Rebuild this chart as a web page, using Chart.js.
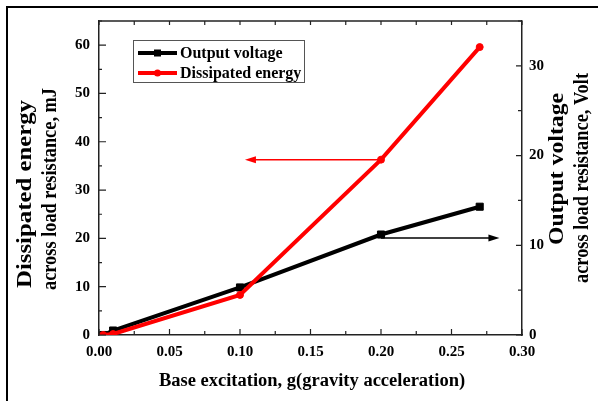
<!DOCTYPE html>
<html>
<head>
<meta charset="utf-8">
<script src="https://cdn.jsdelivr.net/npm/chart.js@4.4.0/dist/chart.umd.min.js"></script>
<style>
    html, body { margin: 0; padding: 0; background: #fff; }
    #wrap { width: 598px; height: 401px; }
</style>
</head>
<body>
<div id="wrap"><canvas id="chart" width="598" height="401"></canvas></div>
<script>
const excitation = [0.003, 0.01, 0.10, 0.20, 0.27];
const outputVoltage = [0.0, 0.5, 5.3, 11.2, 14.3];
const dissipatedEnergy = [0.0, 0.2, 8.3, 36.3, 59.6];

// arrows pointing each curve to its axis: [x from, x to, y value]
const energyArrow = [0.20, 0.1035, 36.3];
const voltageArrow = [0.20, 0.284, 10.8];

const serif = "'Liberation Serif', 'Times New Roman', serif";
const axisColor = "#222";

function isMajor(v, step) {
    const r = v / step;
    return Math.abs(r - Math.round(r)) < 1e-6;
}

function toPoints(ys) {
    return excitation.map(function (x, i) { return { x: x, y: ys[i] }; });
}

function drawArrow(ctx, x1, y, x2, color) {
    const dir = x2 > x1 ? 1 : -1;
    ctx.strokeStyle = color;
    ctx.fillStyle = color;
    ctx.lineWidth = 1.5;
    ctx.beginPath();
    ctx.moveTo(x1, y);
    ctx.lineTo(x2 - dir * 8, y);
    ctx.stroke();
    ctx.beginPath();
    ctx.moveTo(x2, y);
    ctx.lineTo(x2 - dir * 11, y - 3.5);
    ctx.lineTo(x2 - dir * 11, y + 3.5);
    ctx.closePath();
    ctx.fill();
}

// rotated title line, fitted along its length to a given span
function vText(ctx, text, x, y, size, span) {
    ctx.save();
    ctx.font = "bold " + size + "px " + serif;
    ctx.translate(x, y);
    ctx.rotate(-Math.PI / 2);
    ctx.scale(span / ctx.measureText(text).width, 1);
    ctx.fillText(text, 0, 0);
    ctx.restore();
}

const decorations = {
    id: "decorations",
    afterDatasetsDraw(chart) {
        const { ctx, scales } = chart;
        ctx.save();
        const ey = scales.y.getPixelForValue(energyArrow[2]);
        drawArrow(ctx, scales.x.getPixelForValue(energyArrow[0]), ey,
            scales.x.getPixelForValue(energyArrow[1]), "#ff0000");
        const vy = scales.y2.getPixelForValue(voltageArrow[2]);
        drawArrow(ctx, scales.x.getPixelForValue(voltageArrow[0]), vy,
            scales.x.getPixelForValue(voltageArrow[1]), "#000");
        ctx.restore();
    },
    afterDraw(chart) {
        const { ctx, chartArea: a, scales } = chart;
        ctx.save();

        // outer frame (only left/top edges are inside the picture)
        ctx.fillStyle = "#000";
        ctx.fillRect(6, 6, 598, 2);
        ctx.fillRect(6, 6, 2, 401);

        // top border of plot box
        ctx.strokeStyle = axisColor;
        ctx.lineWidth = 1.5;
        ctx.beginPath();
        ctx.moveTo(a.left, a.top);
        ctx.lineTo(a.right, a.top);
        ctx.stroke();

        // inward tick marks
        ctx.lineWidth = 1.2;
        ctx.beginPath();
        scales.x.ticks.forEach(function (t) {
            const px = scales.x.getPixelForValue(t.value);
            const len = isMajor(t.value, 0.05) ? 6 : 4;
            ctx.moveTo(px, a.bottom);
            ctx.lineTo(px, a.bottom - len);
            ctx.moveTo(px, a.top);
            ctx.lineTo(px, a.top + 4);
        });
        scales.y.ticks.forEach(function (t) {
            const py = scales.y.getPixelForValue(t.value);
            const len = isMajor(t.value, 10) ? 7 : 3;
            ctx.moveTo(a.left, py);
            ctx.lineTo(a.left + len, py);
        });
        scales.y2.ticks.forEach(function (t) {
            const py = scales.y2.getPixelForValue(t.value);
            const len = isMajor(t.value, 10) ? 6 : 4;
            ctx.moveTo(a.right, py);
            ctx.lineTo(a.right - len, py);
        });
        ctx.stroke();

        // axis titles
        ctx.fillStyle = "#000";
        ctx.font = "bold 18.5px " + serif;
        ctx.textAlign = "center";
        ctx.textBaseline = "middle";
        ctx.fillText("Base excitation, g(gravity acceleration)", 312, 381);

        vText(ctx, "Dissipated energy", 26, 194, 21, 188);
        vText(ctx, "across load resistance, mJ", 51, 189, 21, 202);
        vText(ctx, "Output voltage", 558, 169, 21, 152);
        vText(ctx, "across load resistance, Volt", 583, 178, 21, 210);

        // legend
        ctx.strokeStyle = "#555";
        ctx.lineWidth = 1;
        ctx.strokeRect(133.5, 40.5, 171, 42);
        ctx.font = "bold 16px " + serif;
        ctx.textAlign = "left";
        const rows = [chart.data.datasets[1], chart.data.datasets[0]];
        rows.forEach(function (ds, i) {
            const y = 53 + i * 20;
            ctx.strokeStyle = ds.borderColor;
            ctx.fillStyle = ds.borderColor;
            ctx.lineWidth = 4;
            ctx.beginPath();
            ctx.moveTo(138, y);
            ctx.lineTo(177, y);
            ctx.stroke();
            if (ds.pointStyle === "rect") {
                ctx.fillRect(154, y - 3.5, 7, 7);
            } else {
                ctx.beginPath();
                ctx.arc(157.5, y, 3.5, 0, Math.PI * 2);
                ctx.fill();
            }
            ctx.fillStyle = "#000";
            ctx.fillText(ds.label, 180, y + 1);
        });
        ctx.restore();
    }
};

const tickFont = { family: serif, size: 15, weight: "bold" };

new Chart(document.getElementById("chart"), {
    type: "line",
    data: {
        datasets: [{
            label: "Dissipated energy",
            data: toPoints(dissipatedEnergy),
            yAxisID: "y",
            borderColor: "#ff0000",
            backgroundColor: "#ff0000",
            borderWidth: 4,
            pointStyle: "circle",
            pointRadius: 3.5,
            pointBorderWidth: 1,
            order: 0
        }, {
            label: "Output voltage",
            data: toPoints(outputVoltage),
            yAxisID: "y2",
            borderColor: "#000000",
            backgroundColor: "#000000",
            borderWidth: 4,
            pointStyle: "rect",
            pointRadius: 5,
            pointBorderWidth: 1,
            order: 1
        }]
    },
    options: {
        responsive: false,
        animation: false,
        layout: { padding: { top: 21, left: 0, right: 0, bottom: 0 } },
        plugins: {
            legend: { display: false },
            tooltip: { enabled: false }
        },
        scales: {
            x: {
                type: "linear",
                min: 0,
                max: 0.3,
                grid: { display: false, drawTicks: false },
                border: { display: true, color: axisColor, width: 1.5 },
                ticks: {
                    stepSize: 0.025,
                    padding: 8,
                    color: "#000",
                    font: tickFont,
                    maxRotation: 0,
                    autoSkip: false,
                    callback: function (v) { return isMajor(v, 0.05) ? v.toFixed(2) : ""; }
                },
                afterFit: function (s) { s.height = 66; s.paddingLeft = 0; s.paddingRight = 0; }
            },
            y: {
                position: "left",
                min: 0,
                max: 65,
                grid: { display: false, drawTicks: false },
                border: { display: true, color: axisColor, width: 1.5 },
                ticks: {
                    stepSize: 5,
                    padding: 9,
                    color: "#000",
                    font: tickFont,
                    autoSkip: false,
                    callback: function (v) { return isMajor(v, 10) ? String(v) : ""; }
                },
                afterFit: function (s) { s.width = 99; s.paddingTop = 0; s.paddingBottom = 0; }
            },
            y2: {
                position: "right",
                min: 0,
                max: 35,
                grid: { display: false, drawTicks: false },
                border: { display: true, color: axisColor, width: 1.5 },
                ticks: {
                    stepSize: 5,
                    padding: 7,
                    color: "#000",
                    font: tickFont,
                    autoSkip: false,
                    callback: function (v) { return isMajor(v, 10) ? String(v) : ""; }
                },
                afterFit: function (s) { s.width = 76; s.paddingTop = 0; s.paddingBottom = 0; }
            }
        }
    },
    plugins: [decorations]
});
</script>
</body>
</html>
